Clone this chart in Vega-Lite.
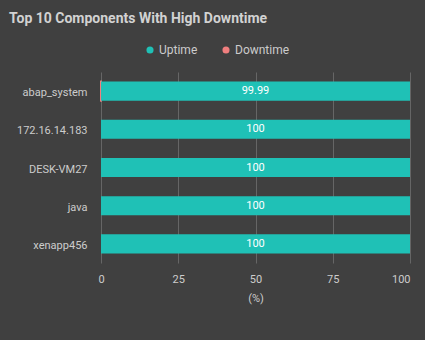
{
  "$schema": "https://vega.github.io/schema/vega-lite/v6.json",
  "autosize": "none",
  "width": 309,
  "height": 191,
  "padding": {"left": 101, "top": 72, "right": 15, "bottom": 77},
  "background": "#404040",
  "view": {"stroke": null},
  "title": {
    "text": "Top 10 Components With High Downtime",
    "anchor": "start",
    "frame": "group",
    "dx": -92,
    "offset": 18,
    "font": "Roboto",
    "fontSize": 14,
    "fontWeight": "bold",
    "color": "#d2d2d2"
  },
  "data": {
    "values": [
      {"component": "abap_system", "status": "Downtime", "value": 0.01},
      {"component": "abap_system", "status": "Uptime", "value": 99.99},
      {"component": "172.16.14.183", "status": "Downtime", "value": 0},
      {"component": "172.16.14.183", "status": "Uptime", "value": 100},
      {"component": "DESK-VM27", "status": "Downtime", "value": 0},
      {"component": "DESK-VM27", "status": "Uptime", "value": 100},
      {"component": "java", "status": "Downtime", "value": 0},
      {"component": "java", "status": "Uptime", "value": 100},
      {"component": "xenapp456", "status": "Downtime", "value": 0},
      {"component": "xenapp456", "status": "Uptime", "value": 100}
    ]
  },
  "encoding": {
    "y": {
      "field": "component",
      "type": "nominal",
      "sort": ["abap_system", "172.16.14.183", "DESK-VM27", "java", "xenapp456"],
      "scale": {"paddingInner": 0.5, "paddingOuter": 0.25},
      "axis": {
        "title": null,
        "domain": false,
        "ticks": false,
        "labelFont": "Roboto",
        "labelFontSize": 11,
        "labelColor": "#cccccc",
        "labelPadding": 14,
        "labelOffset": 2
      }
    }
  },
  "layer": [
    {
      "mark": {"type": "bar"},
      "encoding": {
        "x": {
          "field": "value",
          "type": "quantitative",
          "stack": "zero",
          "scale": {"domain": [0, 100], "nice": false},
          "axis": {
            "title": "(%)",
            "titleFont": "Roboto",
            "titleFontSize": 11,
            "titleFontWeight": "normal",
            "titleColor": "#cccccc",
            "titlePadding": 8,
            "values": [0, 25, 50, 75, 100],
            "domain": false,
            "ticks": false,
            "grid": true,
            "gridColor": "#666666",
            "gridWidth": 1,
            "labelFont": "Roboto",
            "labelFontSize": 11,
            "labelColor": "#cccccc",
            "labelPadding": 10,
            "labelFlush": false,
            "labelAlign": {"condition": {"test": "datum.value == 100", "value": "right"}, "value": "center"}
          }
        },
        "color": {
          "field": "status",
          "type": "nominal",
          "scale": {"domain": ["Uptime", "Downtime"], "range": ["#1fc1b6", "#f07f7f"]},
          "legend": {
            "title": null,
            "orient": "none",
            "direction": "horizontal",
            "legendX": 43,
            "legendY": -28,
            "symbolType": "circle",
            "symbolSize": 50,
            "symbolStrokeWidth": 0,
            "labelFont": "Roboto",
            "labelFontSize": 12,
            "labelColor": "#cccccc",
            "labelOffset": 3,
            "columnPadding": 22
          }
        },
        "stroke": {"field": "status", "type": "nominal", "scale": {"domain": ["Uptime", "Downtime"], "range": ["#1fc1b6", "#f07f7f"]}, "legend": null},
        "strokeWidth": {"condition": {"test": "datum.status == 'Downtime' && datum.value > 0", "value": 2}, "value": 0},
        "order": {"field": "status", "sort": "ascending"}
      }
    },
    {
      "transform": [
        {"filter": "datum.status == 'Uptime'"},
        {"calculate": "datum.value / 2", "as": "mid"}
      ],
      "mark": {"type": "text", "font": "Roboto", "fontSize": 11, "color": "#ffffff"},
      "encoding": {
        "x": {"field": "mid", "type": "quantitative"},
        "text": {"field": "value", "type": "quantitative", "format": "~r"}
      }
    }
  ]
}
